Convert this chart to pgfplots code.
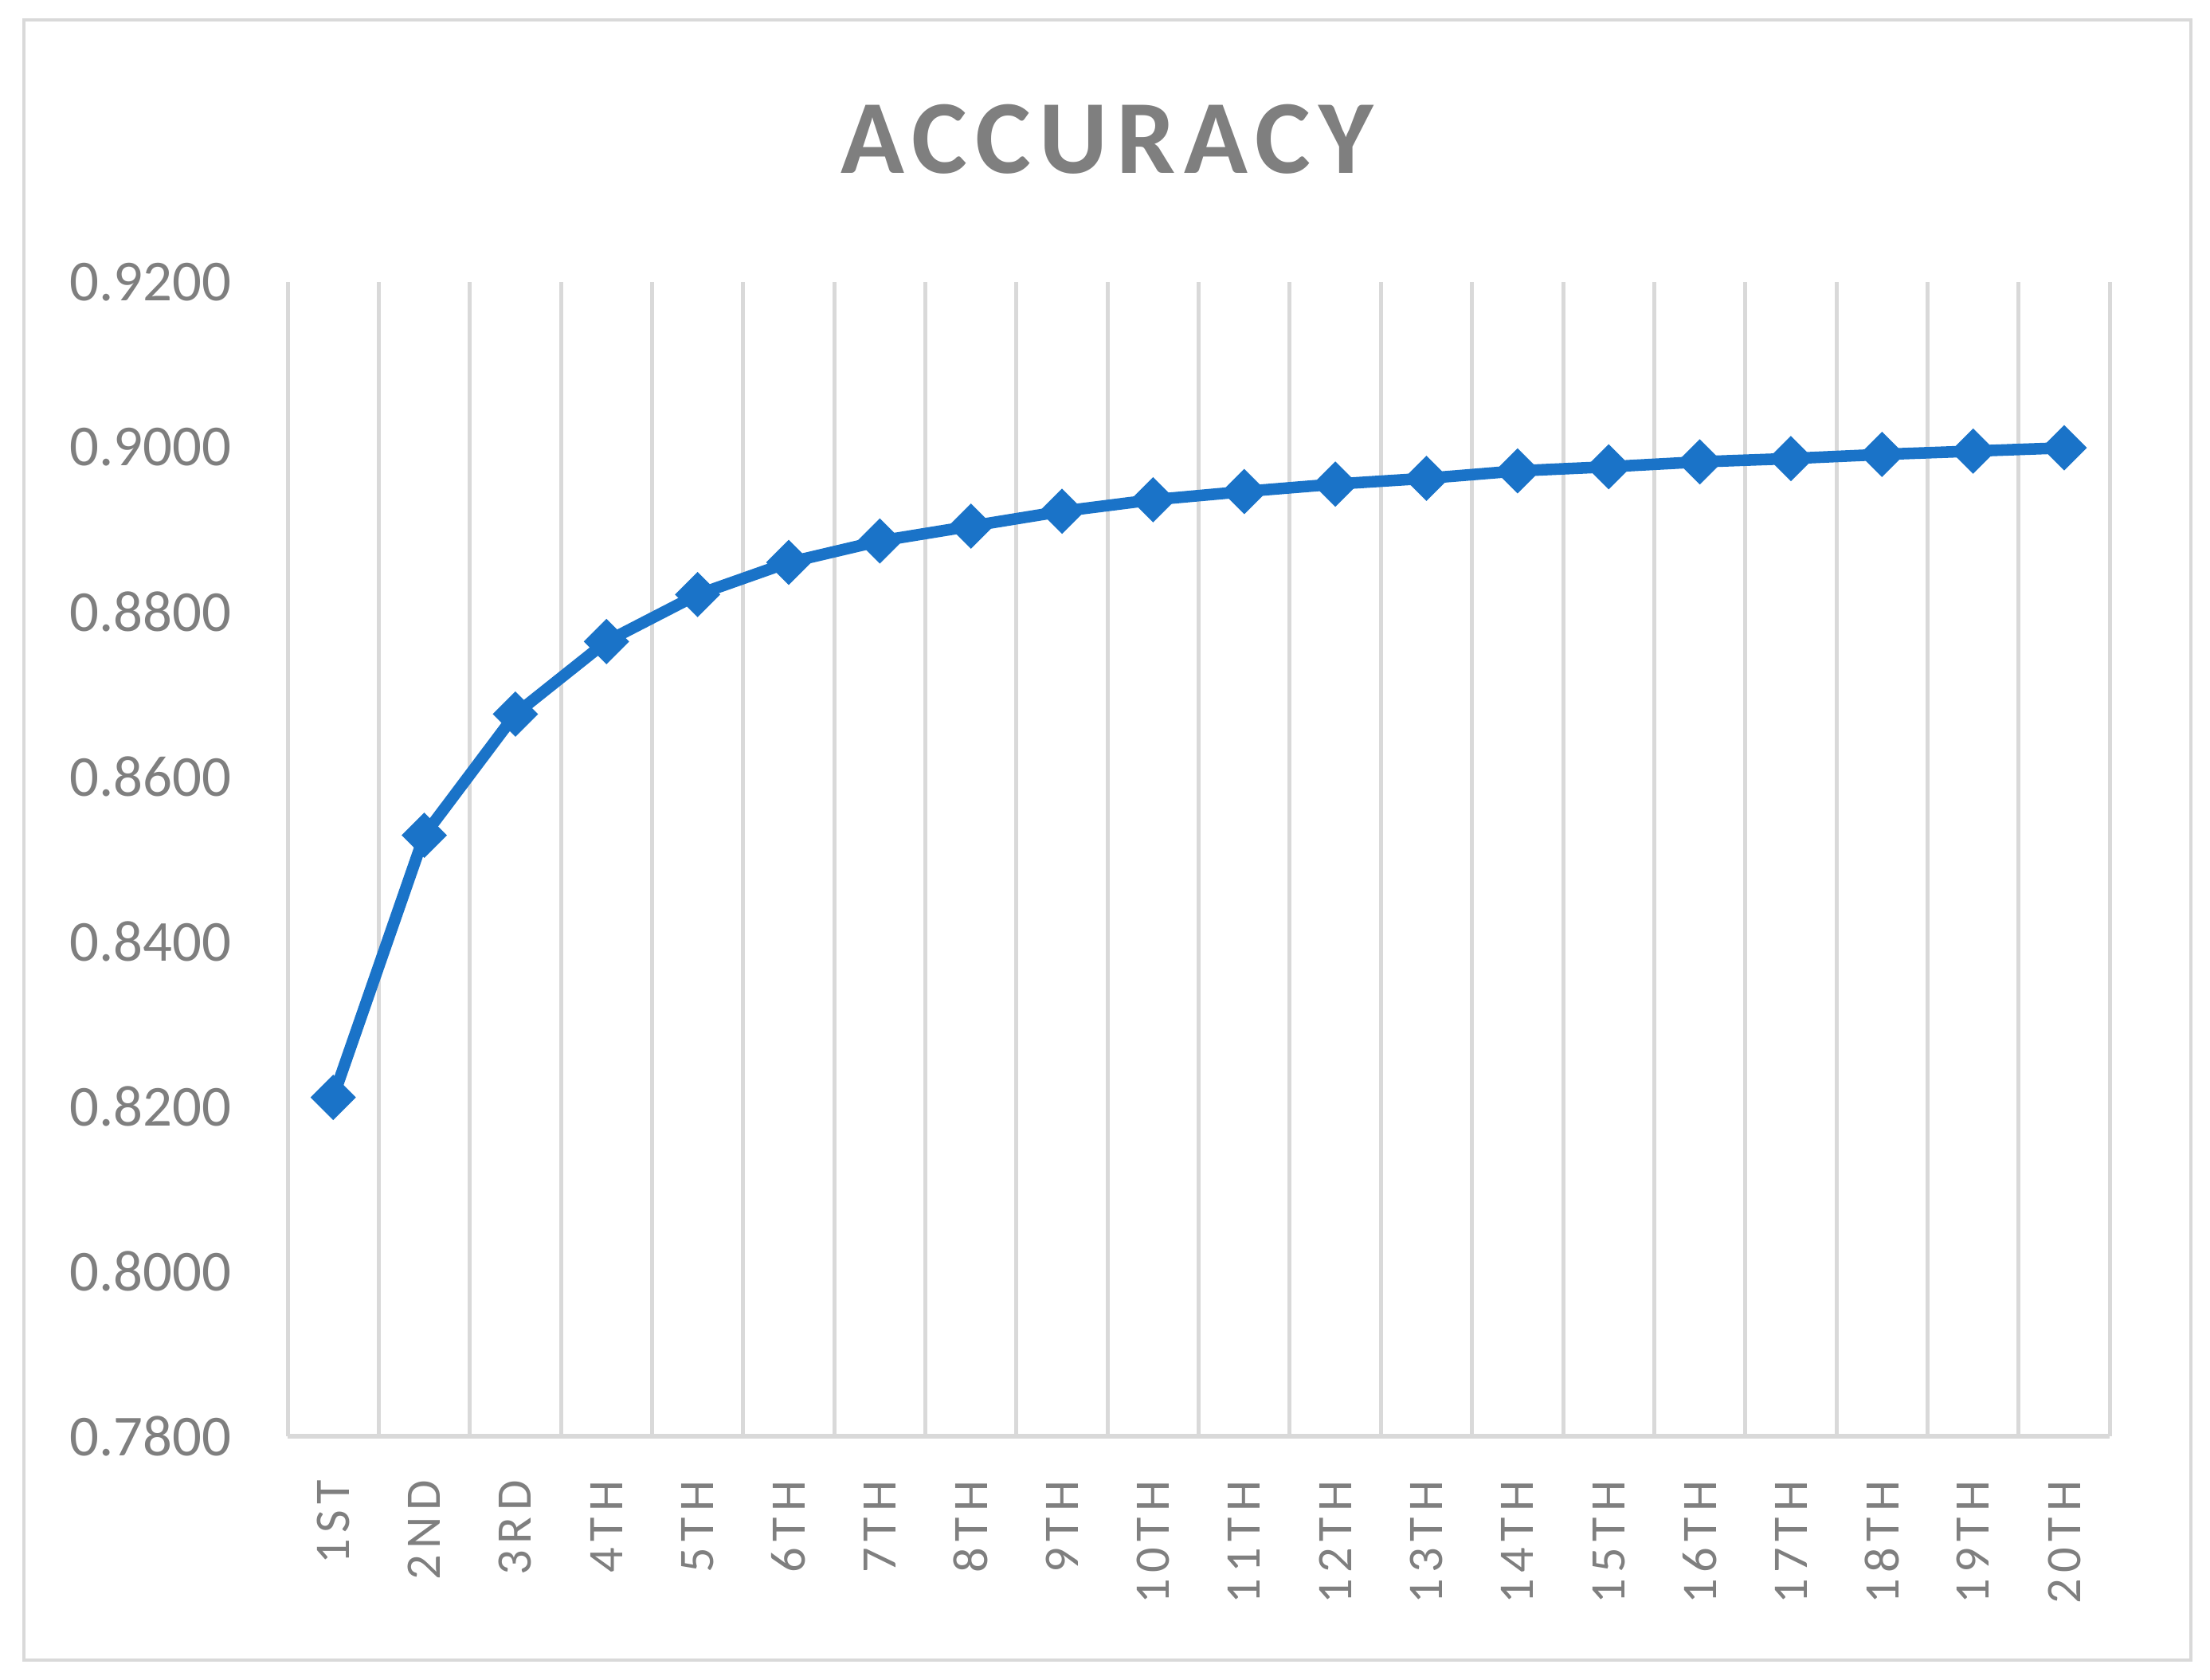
\documentclass[border=0pt]{standalone}
\usepackage{pgfplots}
\pgfplotsset{compat=1.18}
\usepackage{fontspec}
\setmainfont{Carlito}
\newfontfamily\xlabfont[LetterSpace=12]{Carlito}
\newfontfamily\titlefont[LetterSpace=8]{Carlito}
\definecolor{gridgray}{HTML}{D9D9D9}
\definecolor{labelgray}{HTML}{7F7F7F}
\definecolor{lineblue}{HTML}{1A73C8}
\begin{document}
\begin{tikzpicture}
\path[use as bounding box] (0,0) rectangle (400pt,304.1pt);
\draw[gridgray, line width=0.55pt] (4.3pt,3.6pt) rectangle (396.5pt,300.5pt);
\node[text=labelgray, font=\titlefont\bfseries\fontsize{19}{22}\selectfont] at (200.4pt,278.9pt) {ACCURACY};
\begin{axis}[
  at={(52.06pt,44.12pt)}, anchor=south west,
  scale only axis, width=329.8pt, height=208.9pt,
  xmin=0.5, xmax=20.5, ymin=0.78, ymax=0.92,
  axis x line*=bottom, axis y line*=left,
  x axis line style={draw=gridgray, line width=0.9pt, -},
  y axis line style={draw=none},
  xtick={1,...,20},
  xticklabels={1ST,2ND,3RD,4TH,5TH,6TH,7TH,8TH,9TH,10TH,11TH,12TH,13TH,14TH,15TH,16TH,17TH,18TH,19TH,20TH},
  minor xtick={0.5,1.5,...,20.5},
  xminorgrids, minor grid style={draw=gridgray, line width=0.72pt},
  ytick={0.78,0.80,...,0.921},
  major tick length=0pt, minor tick length=0pt,
  yticklabel style={/pgf/number format/fixed, /pgf/number format/fixed zerofill, /pgf/number format/precision=4,
    /pgf/number format/assume math mode=true,
    font=\fontsize{10.5}{12}\selectfont, text=labelgray, inner sep=0pt, anchor=east},
  yticklabel shift=10pt,
  xticklabel style={font=\xlabfont\fontsize{9}{10}\selectfont, text=labelgray, rotate=90, anchor=east, inner sep=0pt},
  xticklabel shift=7.8pt,
]
\addplot[color=lineblue, line width=2.1pt, mark=square*, mark size=2.6pt,
  mark options={solid, rotate=45, fill=lineblue, line width=0.6pt}] coordinates {
(1,0.8211) (2,0.8529) (3,0.8676) (4,0.8764) (5,0.8821)
(6,0.8860) (7,0.8886) (8,0.8904) (9,0.8922) (10,0.8936)
(11,0.8946) (12,0.8955) (13,0.8962) (14,0.8971) (15,0.8976)
(16,0.8982) (17,0.8986) (18,0.8991) (19,0.8995) (20,0.8999)
};
\end{axis}
\end{tikzpicture}
\end{document}
